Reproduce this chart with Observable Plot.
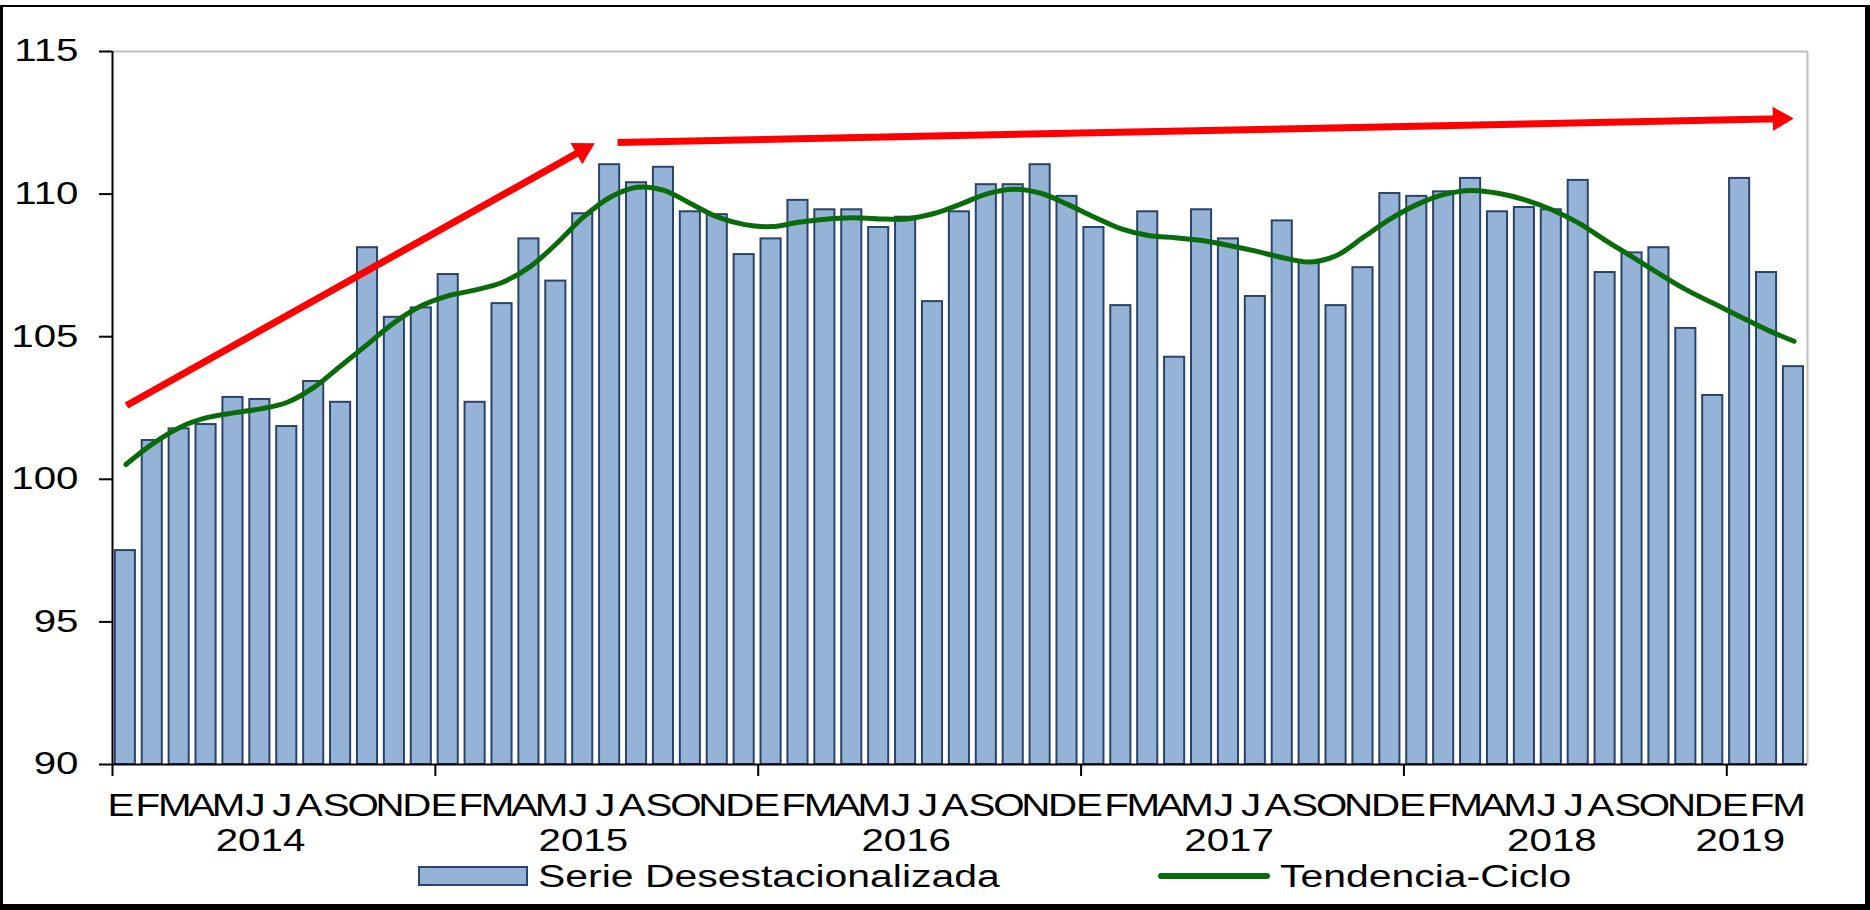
<!DOCTYPE html>
<html>
<head>
<meta charset="utf-8">
<script src="https://cdn.jsdelivr.net/npm/d3@7"></script>
<script src="https://cdn.jsdelivr.net/npm/@observablehq/plot@0.6"></script>
<style>
  html, body { margin: 0; padding: 0; background: #fff; }
  #wrap { position: relative; width: 1870px; height: 910px; overflow: hidden; font-family: "Liberation Sans", Arial, sans-serif; }
  #chart { position: absolute; left: 0; top: 0; }
  #frame { position: absolute; left: 0; top: 5px; width: 1870px; height: 905px; box-sizing: border-box;
           border-top: 2px solid #000; border-left: 3px solid #000; border-right: 5px solid #000; border-bottom: 6px solid #000;
           pointer-events: none; }
  .swatch { position: absolute; box-sizing: border-box; }
  .legtext { position: absolute; font-size: 31px; line-height: 31px; white-space: nowrap; color: #000;
             transform: scaleX(1.32); transform-origin: 0 50%; }
</style>
</head>
<body>
<div id="wrap">
  <div id="chart"></div>
  <div id="legend"></div>
  <div id="frame"></div>
</div>
<script>
// ---------------- data ----------------
const months = ["E","F","M","A","M","J","J","A","S","O","N","D"];
const years = [2014, 2015, 2016, 2017, 2018, 2019];
const monthsPerYear = [12, 12, 12, 12, 12, 3];

// Serie Desestacionalizada (bars), Jan 2014 .. Mar 2019
const serie = [
  97.5, 101.36, 101.77, 101.92, 102.87, 102.80, 101.85, 103.43, 102.70, 108.12, 105.68, 106.01,
  107.18, 102.70, 106.16, 108.43, 106.95, 109.31, 111.03, 110.40, 110.94, 109.38, 109.28, 107.88,
  108.43, 109.78, 109.45, 109.45, 108.83, 109.19, 106.23, 109.38, 110.33, 110.33, 111.03, 109.92,
  108.83, 106.09, 109.38, 104.28, 109.45, 108.43, 106.41, 109.06, 107.61, 106.09, 107.42, 110.02,
  109.92, 110.08, 110.55, 109.38, 109.53, 109.45, 110.48, 107.25, 107.94, 108.12, 105.29, 102.94,
  110.55, 107.25, 103.95
];

// Tendencia-Ciclo (line)
const tendencia = [
  100.52, 101.25, 101.82, 102.16, 102.33, 102.47, 102.70, 103.23, 103.99, 104.75, 105.51, 106.09,
  106.44, 106.64, 106.91, 107.44, 108.26, 109.19, 109.89, 110.24, 110.13, 109.66, 109.19, 108.93,
  108.86, 109.01, 109.12, 109.17, 109.13, 109.13, 109.31, 109.64, 110.01, 110.17, 110.03, 109.64,
  109.19, 108.78, 108.55, 108.47, 108.37, 108.20, 108.00, 107.77, 107.62, 107.85, 108.49, 109.13,
  109.64, 109.99, 110.13, 110.03, 109.80, 109.45, 108.98, 108.37, 107.79, 107.20, 106.64, 106.17,
  105.70, 105.24, 104.84
];

const yTicks = [90, 95, 100, 105, 110, 115];
const legendLabels = ["Serie Desestacionalizada", "Tendencia-Ciclo"];

// red annotation arrows: [month index, value] of tail and of head
const arrowTail = [[0.52, 102.59], [18.77, 111.81]];
const arrowHead = [[17.47, 111.54], [61.97, 112.64]];

// ---------------- styles ----------------
const BAR = "#95b3d7", BAR_STROKE = "#2a4469", GREEN = "#0a6b0a", RED = "#ff0000";
const STRETCH = 1.3;

// ---------------- build ----------------
const rows = [];
years.forEach((yr, k) => {
  for (let m = 0; m < monthsPerYear[k]; m++) {
    const i = rows.length;
    rows.push({i, year: yr, month: months[m], serie: serie[i], tendencia: tendencia[i]});
  }
});
const yearStarts = years.map(yr => rows.find(d => d.year === yr).i);
const yearCenters = years.map((yr, k) => {
  const first = rows.find(d => d.year === yr).i;
  return first + Math.floor(monthsPerYear[k] / 2) - 1 + 0.5;
});
const yearAt = new Map(yearCenters.map((c, k) => [c, String(years[k])]));
const monthCenters = rows.map(d => d.i + 0.5);

const W = 1870, H = 860, mL = 112, mR = 63, mT = 51, mB = 96;
const xDomain = [0, rows.length], yDomain = [yTicks[0], yTicks[yTicks.length - 1]];
const xs = d3.scaleLinear(xDomain, [mL, W - mR]);
const ys = d3.scaleLinear(yDomain, [H - mB, mT]);
const arrows = arrowTail.map((t, k) => {
  const h = arrowHead[k];
  const ang = Math.atan2(ys(h[1]) - ys(t[1]), xs(h[0]) - xs(t[0])) * 180 / Math.PI;
  return {x1: t[0], y1: t[1], x2: h[0], y2: h[1], rot: ang + 90};
});

const plot = Plot.plot({
  width: W, height: H,
  marginLeft: mL, marginRight: mR, marginTop: mT, marginBottom: mB,
  style: {fontFamily: "'Liberation Sans', Arial, sans-serif", background: "transparent", overflow: "visible", color: "#000"},
  x: {type: "linear", domain: xDomain},
  y: {type: "linear", domain: yDomain},
  marks: [
    Plot.ruleY([yDomain[1]], {stroke: "#bfbfbf", strokeWidth: 2}),
    Plot.ruleX([xDomain[1]], {stroke: "#bfbfbf", strokeWidth: 2}),
    Plot.rect(rows, {x1: "i", x2: d => d.i + 1, y1: () => yDomain[0], y2: "serie",
      insetLeft: 2.8, insetRight: 4, fill: BAR, stroke: BAR_STROKE, strokeWidth: 2}),
    Plot.line(rows, {x: d => d.i + 0.5, y: "tendencia", curve: "catmull-rom",
      stroke: GREEN, strokeWidth: 5, strokeLinejoin: "round"}),
    Plot.link(arrows, {x1: "x1", y1: "y1", x2: "x2", y2: "y2", stroke: RED, strokeWidth: 7, strokeLinecap: "butt"}),
    Plot.dot(arrows, {x: "x2", y: "y2", symbol: "triangle", r: 9, fill: RED, stroke: null, rotate: "rot"}),
    Plot.ruleX([xDomain[0]], {stroke: "#000", strokeWidth: 2}),
    Plot.ruleY([yDomain[0]], {stroke: "#000", strokeWidth: 2}),
    Plot.axisY({ticks: yTicks, tickSize: 13, tickPadding: 21, fontSize: 31, stroke: "#000", strokeWidth: 2, label: null}),
    Plot.axisX({ticks: yearStarts, tickSize: 12, tickFormat: () => "", stroke: "#000", strokeWidth: 2, label: null}),
    Plot.axisX({ticks: monthCenters, tickSize: 0, tickPadding: 29, fontSize: 31, dx: -5,
      tickFormat: (t) => rows[Math.floor(t)].month, label: null}),
    Plot.axisX({ticks: yearCenters, tickSize: 0, tickPadding: 64, fontSize: 31,
      tickFormat: (t) => yearAt.get(t), label: null})
  ]
});

// horizontal stretch of the lettering, as in the original picture
for (const t of plot.querySelectorAll("text")) {
  let tr = t.getAttribute("transform") || "";
  const x = t.getAttribute("x");
  if (x !== null && x !== "" && !isNaN(+x)) { tr += ` translate(${x},0)`; t.removeAttribute("x"); }
  t.setAttribute("transform", `${tr} scale(${STRETCH},1)`);
}
document.getElementById("chart").appendChild(plot);

// ---------------- legend (below the svg) ----------------
const legend = document.getElementById("legend");
const sw = document.createElement("div");
sw.className = "swatch";
Object.assign(sw.style, {left: "418px", top: "866px", width: "110px", height: "20px", background: BAR, border: `2px solid ${BAR_STROKE}`});
legend.appendChild(sw);
const t1 = document.createElement("div");
t1.className = "legtext"; t1.textContent = legendLabels[0];
Object.assign(t1.style, {left: "538px", top: "861px"});
legend.appendChild(t1);
const ln = document.createElement("div");
ln.className = "swatch";
Object.assign(ln.style, {left: "1158px", top: "873px", width: "112px", height: "6px", background: GREEN, borderRadius: "3px"});
legend.appendChild(ln);
const t2 = document.createElement("div");
t2.className = "legtext"; t2.textContent = legendLabels[1];
Object.assign(t2.style, {left: "1280px", top: "861px"});
legend.appendChild(t2);
</script>
</body>
</html>
